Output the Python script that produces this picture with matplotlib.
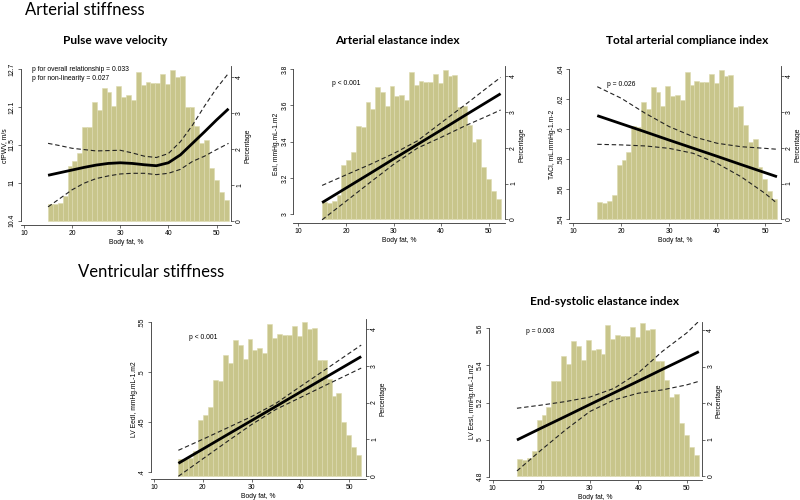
import numpy as np
import matplotlib
matplotlib.use("Agg")
import matplotlib.pyplot as plt

# ---------------- data ----------------
# histogram of body fat (percentage of participants per bin), shared by all panels
hist_pct = [0.47, 0.45, 0.50, 0.68, 1.53, 1.66, 1.88, 2.61, 2.59, 3.29,
            3.08, 3.69, 3.57, 3.18, 3.73, 3.44, 3.48, 3.34, 4.13, 3.76,
            3.86, 3.83, 3.83, 4.07, 3.80, 4.19, 4.00, 4.03, 3.15, 3.16,
            2.63, 2.17, 2.25, 1.46, 1.12, 0.80, 0.57]
hist_range = (15.0, 52.5)

# Pulse wave velocity (spline fit + 95% CI)
pwv_x = [15, 17.5, 20, 22.5, 25, 27.5, 30, 32.5, 35, 37.5, 40, 42.5, 45, 47.5, 50, 52.5]
pwv_fit = [11.09, 11.13, 11.17, 11.21, 11.245, 11.27, 11.28, 11.27, 11.25, 11.235,
           11.28, 11.40, 11.575, 11.75, 11.93, 12.10]
pwv_hi = [11.575, 11.54, 11.50, 11.48, 11.46, 11.465, 11.47, 11.43, 11.38, 11.36,
          11.42, 11.60, 11.85, 12.14, 12.41, 12.64]
pwv_lo = [10.61, 10.74, 10.87, 10.97, 11.04, 11.08, 11.11, 11.12, 11.12, 11.10,
          11.12, 11.18, 11.30, 11.38, 11.48, 11.575]

# linear fits + 95% CI
lin_x = [15, 20, 25, 30, 35, 40, 45, 50, 52.5]
eai_fit = [3.063, 3.143, 3.223, 3.304, 3.384, 3.464, 3.545, 3.625, 3.665]
eai_hi = [3.158, 3.216, 3.273, 3.334, 3.404, 3.504, 3.603, 3.705, 3.755]
eai_lo = [2.968, 3.070, 3.173, 3.274, 3.364, 3.424, 3.487, 3.545, 3.575]

taci_fit = [0.6091, 0.6037, 0.5983, 0.5928, 0.5874, 0.5820, 0.5765, 0.5711, 0.5684]
taci_hi = [0.6284, 0.6207, 0.6107, 0.6018, 0.5951, 0.5907, 0.5884, 0.5873, 0.5867]
taci_lo = [0.5900, 0.5896, 0.5889, 0.5873, 0.5840, 0.5773, 0.5684, 0.5573, 0.5507]

eedi_fit = [0.4090, 0.4232, 0.4375, 0.4517, 0.4659, 0.4802, 0.4944, 0.5086, 0.5157]
eedi_hi = [0.4220, 0.4330, 0.4443, 0.4557, 0.4689, 0.4857, 0.5022, 0.5189, 0.5272]
eedi_lo = [0.3960, 0.4134, 0.4307, 0.4477, 0.4629, 0.4747, 0.4866, 0.4983, 0.5042]

eesi_fit = [4.998, 5.062, 5.125, 5.189, 5.252, 5.315, 5.379, 5.442, 5.474]
eesi_hi = [5.169, 5.186, 5.205, 5.229, 5.276, 5.359, 5.476, 5.575, 5.638]
eesi_lo = [4.831, 4.944, 5.052, 5.151, 5.214, 5.250, 5.268, 5.295, 5.314]

x_ticks = [10, 20, 30, 40, 50]
pct_ticks = [0, 1, 2, 3, 4]

pwv_ticks = list(np.linspace(10.4, 12.7, 5))
pwv_ticklabels = ["10.4", "11", "11.5", "12.1", "12.7"]
eai_ticks = [3.0, 3.2, 3.4, 3.6, 3.8]
eai_ticklabels = ["3", "3.2", "3.4", "3.6", "3.8"]
taci_ticks = [0.54, 0.56, 0.58, 0.60, 0.62, 0.64]
taci_ticklabels = [".54", ".56", ".58", ".6", ".62", ".64"]
eedi_ticks = [0.40, 0.45, 0.50, 0.55]
eedi_ticklabels = [".4", ".45", ".5", ".55"]
eesi_ticks = [4.8, 5.0, 5.2, 5.4, 5.6]
eesi_ticklabels = ["4.8", "5", "5.2", "5.4", "5.6"]

# ---------------- figure ----------------
W, H = 800, 500
fig = plt.figure(figsize=(8, 5), dpi=100)
fig.patch.set_facecolor("white")

SMALL = 4.9
TFONT = "Lato"
SFONT = "Liberation Sans"
BAR = "#c8c58b"
BAR_EDGE = "#dcdab0"


def fx(x):
    return x / W


def fy(y):
    return 1 - y / H


panels = [
    dict(box=(20.7, 231, 225, 66), x10=24, x50=216.5, ya=(10.4, 220.7), yb=(12.7, 69.3),
         p0=220.7, p4=76.7, ticks=pwv_ticks, labels=pwv_ticklabels, ylabel="cfPWV, m/s",
         x=pwv_x, fit=pwv_fit, hi=pwv_hi, lo=pwv_lo,
         title="Pulse wave velocity", title_xy=(114.7, 41),
         ptext=["p for overall relationship = 0.033", "p for non-linearity = 0.027"],
         ptext_xy=(32.3, 69.3)),
    dict(box=(293.3, 505, 222.7, 66), x10=298.3, x50=488.7, ya=(3.0, 214), yb=(3.8, 69.3),
         p0=219.3, p4=76.3, ticks=eai_ticks, labels=eai_ticklabels,
         ylabel="EaI, mmHg.mL-1.m2",
         x=lin_x, fit=eai_fit, hi=eai_hi, lo=eai_lo,
         title="Arterial elastance index", title_xy=(397, 40.5),
         ptext=["p < 0.001"], ptext_xy=(331.7, 83.3)),
    dict(box=(569.3, 780.7, 222.7, 66), x10=573.3, x50=765, ya=(0.54, 219.3), yb=(0.64, 69.3),
         p0=219.3, p4=76.3, ticks=taci_ticks, labels=taci_ticklabels,
         ylabel="TACI, mL.mmHg-1.m-2",
         x=lin_x, fit=taci_fit, hi=taci_hi, lo=taci_lo,
         title="Total arterial compliance index", title_xy=(686.7, 40.5),
         ptext=["p = 0.026"], ptext_xy=(607.3, 84.3)),
    dict(box=(150.7, 366, 479.3, 319), x10=154, x50=349, ya=(0.40, 472.3), yb=(0.55, 322.3),
         p0=476, p4=329, ticks=eedi_ticks, labels=eedi_ticklabels,
         ylabel="LV EedI, mmHg.mL-1.m2",
         x=lin_x, fit=eedi_fit, hi=eedi_hi, lo=eedi_lo,
         title=None, title_xy=None,
         ptext=["p < 0.001"], ptext_xy=(189.3, 337.7)),
    dict(box=(489, 702.3, 480, 322), x10=492.7, x50=686.7, ya=(4.8, 476.7), yb=(5.6, 328.3),
         p0=476, p4=330, ticks=eesi_ticks, labels=eesi_ticklabels,
         ylabel="LV EesI, mmHg.mL-1.m2",
         x=lin_x, fit=eesi_fit, hi=eesi_hi, lo=eesi_lo,
         title="End-systolic elastance index", title_xy=(604.7, 301.7),
         ptext=["p = 0.003"], ptext_xy=(526, 331.7)),
]

edges = np.linspace(hist_range[0], hist_range[1], len(hist_pct) + 1)

for p in panels:
    L, R, B, T = p["box"]
    rect = [fx(L), fy(B), (R - L) / W, (B - T) / H]
    ax_h = fig.add_axes(rect)
    ax_l = fig.add_axes(rect, sharex=ax_h)
    ax_l.patch.set_visible(False)

    # x limits from pixel geometry
    upx = (p["x50"] - p["x10"]) / 40.0
    ax_h.set_xlim(10 + (L - p["x10"]) / upx, 10 + (R - p["x10"]) / upx)

    # left axis limits
    va, pa = p["ya"]
    vb, pb = p["yb"]
    s = (vb - va) / (pa - pb)
    ax_l.set_ylim(va - (B - pa) * s, va + (pa - T) * s)

    # right axis limits
    s2 = 4.0 / (p["p0"] - p["p4"])
    ax_h.set_ylim(-(B - p["p0"]) * s2, (p["p0"] - T) * s2)

    # histogram
    ax_h.bar(edges[:-1], hist_pct, width=np.diff(edges), align="edge",
             color=BAR, edgecolor=BAR_EDGE, linewidth=0.4)

    # curves
    ax_l.plot(p["x"], p["hi"], color="#222222", lw=0.8, ls=(0, (4, 2.5)))
    ax_l.plot(p["x"], p["lo"], color="#222222", lw=0.8, ls=(0, (4, 2.5)))
    ax_l.plot(p["x"], p["fit"], color="black", lw=2.0, solid_capstyle="butt")

    # spines
    for sp in ["top", "left"]:
        ax_h.spines[sp].set_visible(False)
    ax_h.spines["right"].set_bounds(0, ax_h.get_ylim()[1])
    for sp in ["top", "right", "bottom"]:
        ax_l.spines[sp].set_visible(False)
    ax_l.spines["left"].set_bounds(min(p["ticks"]), max(p["ticks"]))
    for a in (ax_h, ax_l):
        for sp in a.spines.values():
            sp.set_linewidth(0.6)
            sp.set_color("#333333")

    # ticks
    ax_h.yaxis.tick_right()
    ax_h.yaxis.set_label_position("right")
    ax_h.set_yticks(pct_ticks)
    ax_h.set_yticklabels([str(t) for t in pct_ticks])
    ax_h.set_xticks(x_ticks)
    ax_h.set_xticklabels([str(t) for t in x_ticks])
    ax_h.tick_params(axis="both", labelsize=SMALL, length=2.4, width=0.5, pad=1.2,
                     colors="#333333")
    ax_h.tick_params(axis="y", labelrotation=90)
    for lab in ax_h.get_yticklabels():
        lab.set_va("center")
    ax_l.set_yticks(p["ticks"])
    ax_l.set_yticklabels(p["labels"])
    ax_l.tick_params(axis="y", labelsize=SMALL, length=2.4, width=0.5, pad=1.2,
                     labelrotation=90, colors="#333333")
    for lab in ax_l.get_yticklabels():
        lab.set_va("center")
    ax_l.tick_params(axis="x", bottom=False, labelbottom=False)
    for a in (ax_h, ax_l):
        for lab in a.get_xticklabels() + a.get_yticklabels():
            lab.set_fontfamily(SFONT)
            lab.set_color("black")

    ax_h.set_xlabel("Body fat, %", fontsize=SMALL, family=SFONT, labelpad=1.5)
    ax_h.set_ylabel("Percentage", fontsize=SMALL, family=SFONT, labelpad=1.2)
    ax_l.set_ylabel(p["ylabel"], fontsize=SMALL, family=SFONT, labelpad=0.8)

    # title
    if p["title"]:
        tx, ty = p["title_xy"]
        fig.text(fx(tx), fy(ty), p["title"], ha="center", va="center",
                 fontsize=8.6, fontweight="bold", family=TFONT)

    # p-values
    px_, py_ = p["ptext_xy"]
    for i, line in enumerate(p["ptext"]):
        fig.text(fx(px_), fy(py_ + i * 9.5), line, ha="left", va="center",
                 fontsize=SMALL, family=SFONT)

# section headings
fig.text(fx(25), fy(15.3), "Arterial stiffness", ha="left", va="baseline",
         fontsize=12, family=TFONT)
fig.text(fx(78.3), fy(276.7), "Ventricular stiffness", ha="left", va="baseline",
         fontsize=12, family=TFONT)

fig.savefig("out.png", dpi=100, facecolor="white")
